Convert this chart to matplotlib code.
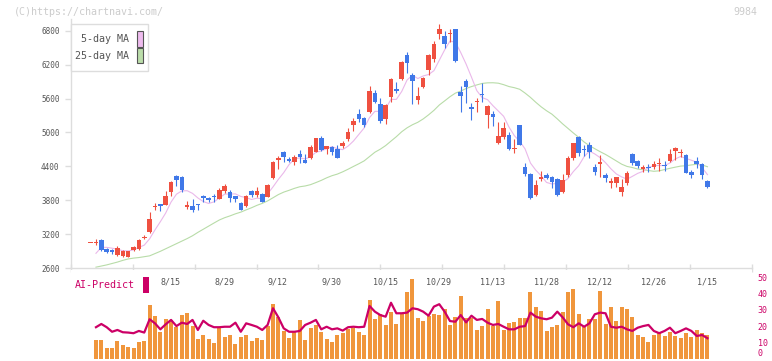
import matplotlib
matplotlib.use('Agg')
import matplotlib.pyplot as plt
from matplotlib.patches import Rectangle
import numpy as np
import pandas as pd

# 四本値 (candle index 0..115)
opens = [3040, 3040, 3105, 2940, 2925, 2835, 2825, 2805, 2925, 2945,
         3140, 3250, 3680, 3730, 3725, 3955, 4230, 4205, 3680, 3700,
         3720, 3880, 3845, 3885, 3830, 3970, 3950, 3875, 3755, 3705,
         3965, 3895, 3910, 3865, 4190, 4515, 4660, 4530, 4475, 4625,
         4515, 4545, 4655, 4900, 4710, 4750, 4700, 4760, 4885, 5130,
         5325, 5260, 5370, 5705, 5505, 5245, 5635, 5770, 5945, 6370,
         6015, 5575, 5795, 6105, 6295, 6735, 6705, 6735, 6830, 5715,
         5910, 5450, 5545, 5680, 5315, 5330, 4820, 4925, 4955, 4705,
         5130, 4385, 4265, 3895, 4175, 4245, 4210, 4180, 3955, 4250,
         4545, 4920, 4710, 4780, 4395, 4445, 4250, 4115, 4115, 3940,
         4100, 4620, 4495, 4355, 4380, 4385, 4450, 4415, 4500, 4680,
         4640, 4600, 4305, 4495, 4445, 4150]
closes = [3040, 3045, 2925, 2885, 2880, 2953, 2910, 2905, 2980, 3100,
          3150, 3470, 3690, 3705, 3870, 4120, 4160, 3985, 3720, 3635,
          3715, 3845, 3815, 3855, 3985, 4055, 3850, 3830, 3630, 3880,
          3890, 3965, 3780, 4070, 4485, 4555, 4560, 4495, 4570, 4575,
          4465, 4745, 4900, 4690, 4760, 4660, 4555, 4820, 5000, 5210,
          5240, 5130, 5740, 5545, 5210, 5485, 5945, 5740, 6245, 6225,
          5910, 5645, 5970, 6370, 6565, 6830, 6560, 6755, 6270, 5650,
          5810, 5410, 5555, 5655, 5470, 5280, 4940, 5085, 4705, 4710,
          4780, 4265, 3840, 4070, 4220, 4190, 4130, 3895, 4160, 4555,
          4810, 4645, 4690, 4660, 4295, 4485, 4200, 4150, 4210, 4030,
          4280, 4455, 4415, 4390, 4370, 4445, 4465, 4405, 4620, 4730,
          4660, 4290, 4250, 4440, 4250, 4045]
highs = [3040, 3115, 3117, 2950, 2940, 2995, 2930, 2910, 3000, 3120,
         3190, 3600, 3750, 3735, 3965, 4150, 4250, 4230, 3790, 3820,
         3740, 3895, 3860, 3910, 4025, 4090, 3980, 3880, 3780, 3895,
         3985, 4030, 3925, 4090, 4500, 4585, 4680, 4565, 4600, 4690,
         4620, 4785, 4905, 4945, 4765, 4755, 4770, 4850, 5085, 5250,
         5415, 5280, 5830, 5750, 5605, 5500, 5970, 5890, 6255, 6420,
         6045, 5800, 5985, 6380, 6615, 6915, 6795, 6825, 6830, 5820,
         5945, 5525, 5605, 5870, 5485, 5380, 5190, 5180, 5015, 4885,
         5140, 4455, 4280, 4160, 4320, 4280, 4230, 4190, 4265, 4585,
         4820, 4940, 4770, 4825, 4445, 4600, 4280, 4190, 4220, 4180,
         4320, 4630, 4510, 4425, 4450, 4495, 4555, 4495, 4710, 4750,
         4710, 4615, 4335, 4560, 4455, 4160]
lows = [3040, 3010, 2910, 2875, 2850, 2823, 2800, 2800, 2900, 2930,
        3110, 3230, 3625, 3620, 3715, 3885, 4060, 3945, 3640, 3600,
        3630, 3770, 3780, 3775, 3820, 3925, 3780, 3780, 3625, 3690,
        3855, 3855, 3770, 3855, 4180, 4360, 4470, 4480, 4420, 4455,
        4460, 4525, 4650, 4680, 4620, 4600, 4550, 4720, 4850, 5030,
        5190, 5090, 5350, 5515, 5160, 5145, 5545, 5700, 5930, 6055,
        5505, 5505, 5780, 6015, 6240, 6650, 6485, 6595, 6250, 5370,
        5515, 5220, 5370, 5545, 5085, 5120, 4795, 4885, 4690, 4630,
        4770, 4230, 3820, 3880, 4145, 4170, 4015, 3880, 3935, 4220,
        4515, 4585, 4590, 4555, 4250, 4220, 4130, 4015, 4045, 3880,
        4070, 4425, 4375, 4305, 4305, 4350, 4320, 4320, 4485, 4515,
        4570, 4280, 4200, 4380, 4170, 4015]

# 移動平均の先頭部分（画面外のデータを含むので図から読み取り）
ma5_head = [np.nan, 2865, 2970, 2970]
ma25_head = [np.nan, 2620, 2640, 2660, 2685, 2710, 2740, 2765, 2780, 2790,
             2805, 2820, 2860, 2900, 2945, 2990, 3035, 3080, 3125, 3175,
             3235, 3290, 3345, 3400]

# AI-Predict
ai_bars = [np.nan, 11.4, 11.4, 6.7, 6.7, 10.8, 8.5, 7.3, 6.5, 10.4,
           11.0, 33.2, 26.2, 16.5, 24.4, 23.8, 19.6, 26.8, 28.0, 20.0,
           12.0, 14.5, 12.0, 9.8, 18.6, 13.1, 14.5, 9.0, 13.5, 14.5,
           10.8, 12.5, 11.4, 20.0, 33.6, 25.4, 17.0, 12.7, 16.5, 23.8,
           11.4, 18.7, 20.7, 16.5, 12.0, 10.4, 14.5, 15.6, 18.0, 18.6,
           16.5, 14.5, 36.1, 24.4, 27.5, 20.7, 28.9, 21.3, 27.9, 41.0,
           49.0, 25.2, 23.3, 26.2, 27.5, 27.0, 30.6, 20.7, 25.4, 38.6,
           24.8, 24.8, 17.6, 20.0, 30.6, 20.0, 35.5, 17.6, 22.1, 22.7,
           25.2, 25.2, 41.0, 31.8, 29.3, 17.0, 19.3, 20.7, 28.9, 41.0,
           42.9, 27.7, 19.3, 24.4, 24.4, 41.7, 21.3, 32.0, 23.1, 31.8,
           30.6, 25.6, 14.5, 13.1, 10.2, 14.5, 16.0, 13.7, 16.4, 14.1,
           12.7, 15.7, 13.3, 17.6, 15.7, 14.5]
ai_line = [np.nan, 19.3, 21.3, 19.3, 16.5, 17.6, 16.2, 16.0, 15.6, 17.0,
           16.0, 24.2, 21.7, 18.0, 21.1, 23.8, 20.0, 22.1, 21.3, 23.8,
           17.6, 23.3, 20.7, 19.3, 19.3, 19.6, 19.6, 22.1, 16.5, 21.7,
           20.7, 19.6, 17.6, 20.7, 31.0, 25.4, 18.6, 16.5, 16.5, 17.0,
           20.7, 22.1, 23.8, 18.0, 19.6, 18.0, 18.6, 17.2, 19.3, 19.6,
           19.3, 19.6, 32.4, 28.9, 26.8, 25.8, 34.4, 27.9, 27.9, 28.3,
           31.0, 30.4, 28.9, 26.4, 32.0, 33.5, 28.9, 23.1, 22.7, 26.8,
           22.3, 26.4, 23.8, 24.4, 22.1, 20.7, 21.3, 19.6, 18.0, 18.0,
           19.6, 20.0, 28.3, 25.8, 24.8, 24.2, 25.2, 28.9, 25.4, 21.1,
           19.3, 21.7, 19.6, 21.7, 27.3, 28.3, 27.9, 19.6, 19.0, 19.6,
           18.0, 17.0, 19.0, 20.0, 20.7, 17.0, 15.6, 17.0, 19.0, 15.6,
           17.0, 18.6, 17.0, 13.9, 14.5, 12.5]

date_labels = ['8/15', '8/29', '9/12', '9/30', '10/15', '10/29',
               '11/13', '11/28', '12/12', '12/26', '1/15']
date_pos = [15, 25, 35, 45, 55, 65, 75, 85, 95, 105, 115]
price_ticks = [2600, 3200, 3800, 4400, 5000, 5600, 6200, 6800]
ai_ticks = [0, 10, 20, 30, 40, 50]

UP = '#ef5040'
DOWN = '#4078e8'
GRID = '#dddddd'
MONO = 'DejaVu Sans Mono'

n = len(closes)
x = np.arange(n)
o = np.array(opens, float)
c = np.array(closes, float)
h = np.array(highs, float)
l = np.array(lows, float)

cs = pd.Series(c)
ma5 = cs.rolling(5).mean().values
ma5[:len(ma5_head)] = ma5_head
ma25 = cs.rolling(25).mean().values
ma25[:len(ma25_head)] = ma25_head

W, H = 772, 361
fig = plt.figure(figsize=(W / 100, H / 100), dpi=100)
xlim = (-3.71, 123.3)

# メインのローソク足
ax = fig.add_axes([70.7 / W, 1 - 268.3 / H, (752 - 70.7) / W, (268.3 - 19.3) / H])
ax.set_xlim(*xlim)
ax.set_ylim(2600, 7000)
ax.plot(x, ma25, color='#b8dca8', lw=0.8, zorder=2)
ax.plot(x, ma5, color='#eab8ea', lw=0.8, zorder=2)

cols = [UP if cc >= oo else DOWN for oo, cc in zip(o, c)]
ax.vlines(x, l, h, colors=cols, lw=0.8, zorder=3)
body_lo = np.minimum(o, c)
body_h = np.maximum(np.abs(c - o), 16)
ax.bar(x, body_h, bottom=body_lo, width=0.85, color=cols, lw=0, zorder=4)

for s in ['top', 'right']:
    ax.spines[s].set_visible(False)
for s in ['left', 'bottom']:
    ax.spines[s].set_color(GRID)
    ax.spines[s].set_linewidth(1)
ax.set_yticks(price_ticks)
ax.set_yticklabels([str(t) for t in price_ticks], fontfamily=MONO, fontsize=5.5, color='#555555')
ax.tick_params(axis='y', length=4, width=1, color=GRID, pad=4)
ax.set_xticks(np.linspace(xlim[0], xlim[1], 12))
ax.tick_params(axis='x', direction='inout', length=6, width=1, color=GRID, labelbottom=False)

# AI-Predict パネル
ax2 = fig.add_axes([70.7 / W, 1 - 358.5 / H, (752 - 70.7) / W, (358.5 - 270) / H])
ax2.set_xlim(*xlim)
ax2.set_ylim(0, 54.6)
ax2.bar(x, ai_bars, width=0.75, color='#f0963c', lw=0, zorder=2)
ax2.plot(x, ai_line, color='#cc0066', lw=1.6, zorder=3)
for s in ax2.spines.values():
    s.set_visible(False)
ax2.set_xticks([])
ax2.yaxis.tick_right()
ax2.set_yticks(ai_ticks)
ax2.set_yticklabels([str(t) for t in ai_ticks], fontfamily=MONO, fontsize=6, color='#cc0066')
ax2.tick_params(axis='y', length=0, pad=4)
ax2.get_yticklabels()[0].set_verticalalignment('bottom')
for p, lab in zip(date_pos, date_labels):
    ax2.text(p - 0.1, 0.864, lab, transform=ax2.get_xaxis_transform(), ha='center', va='center',
             fontfamily=MONO, fontsize=6, color='#555555')

fig.text(75 / W, 1 - 285 / H, 'AI-Predict', fontfamily=MONO, fontsize=7.2, color='#cc0066',
         ha='left', va='center')
fig.patches.append(Rectangle((143 / W, 1 - 293 / H), 6 / W, 16 / H, transform=fig.transFigure,
                             facecolor='#cc0066', edgecolor='none'))

# 凡例
fig.patches.append(Rectangle((70.7 / W, 1 - 71 / H), (148 - 70.7) / W, (71 - 24) / H,
                             transform=fig.transFigure, facecolor='white', edgecolor=GRID,
                             lw=1, zorder=5))
fig.text(129 / W, 1 - 39.5 / H, '5-day MA', fontfamily=MONO, fontsize=7.2, color='#555555',
         ha='right', va='center', zorder=6)
fig.text(129 / W, 1 - 56 / H, '25-day MA', fontfamily=MONO, fontsize=7.2, color='#555555',
         ha='right', va='center', zorder=6)
fig.patches.append(Rectangle((136.7 / W, 1 - 46.7 / H), 6 / W, 15.5 / H, transform=fig.transFigure,
                             facecolor='#eebbee', edgecolor='#555555', lw=0.8, zorder=6))
fig.patches.append(Rectangle((136.7 / W, 1 - 63.3 / H), 6 / W, 15 / H, transform=fig.transFigure,
                             facecolor='#bbddaa', edgecolor='#555555', lw=0.8, zorder=6))

fig.text(14 / W, 1 - 12 / H, '(C)https://chartnavi.com/', fontfamily=MONO, fontsize=7.2,
         color='#cccccc', ha='left', va='center')
fig.text(757 / W, 1 - 12 / H, '9984', fontfamily=MONO, fontsize=7.2, color='#cccccc',
         ha='right', va='center')

fig.savefig('out.png', dpi=100)
